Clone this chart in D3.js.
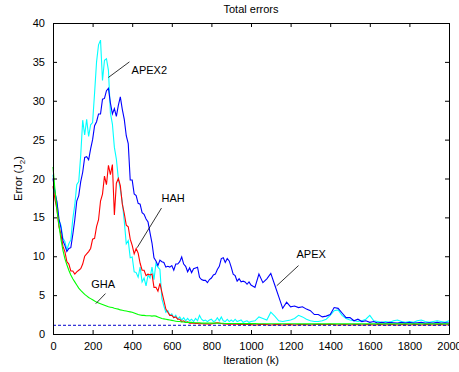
<!DOCTYPE html>
<html>
<head>
<meta charset="utf-8">
<script src="https://cdn.jsdelivr.net/npm/d3@7"></script>
<style>
  body { margin: 0; background: #fff; }
  svg text { font-family: "Liberation Sans", Arial, Helvetica, sans-serif; font-size: 11px; fill: #000; }
</style>
</head>
<body>
<svg id="chart" width="459" height="372"></svg>
<script>
// iteration index: every 10 up to 990, then every 20 up to 2000
const iterations = d3.range(0, 1000, 10).concat(d3.range(1000, 2001, 20));

const apex2 = [
  20.5, 18.2, 16.8, 14.6, 14.0, 12.3, 11.9, 10.8, 11.6, 12.1,
  14.8, 16.6, 19.2, 19.6, 23.0, 27.5, 25.6, 27.6, 25.4, 26.9,
  27.2, 31.0, 35.0, 37.2, 37.8, 32.6, 35.2, 35.4, 33.9, 28.4,
  27.0, 24.0, 22.5, 20.0, 18.6, 17.0, 14.5, 11.6, 12.0, 9.8,
  9.9, 8.0, 7.9, 7.3, 8.6, 6.7, 7.2, 6.2, 7.6, 7.2,
  8.6, 7.0, 9.1, 8.6, 8.3, 4.5, 3.6, 2.8, 3.0, 2.4,
  2.6, 2.1, 2.4, 1.9, 2.2, 1.8, 2.1, 1.7, 2.0, 1.7,
  1.9, 1.6, 2.0, 1.7, 2.4, 1.9, 1.7, 1.8, 1.6, 1.8,
  1.9, 1.6, 1.7, 2.1, 1.7, 2.2, 1.7, 1.6, 1.9, 1.6,
  1.8, 1.6, 1.9, 1.6, 1.7, 1.8, 1.5, 1.6, 1.7, 1.5,
  // step 20 from 1000
  1.6, 1.7, 2.2, 2.0, 1.8, 2.8, 2.3, 1.7, 1.6, 1.7,
  1.8, 2.0, 2.4, 2.2, 1.9, 1.7, 1.6, 1.6, 1.7, 1.9,
  2.4, 3.0, 3.1, 2.4, 2.0, 1.8, 1.7, 1.6, 1.7, 1.9,
  2.4, 1.7, 1.6, 1.5, 1.6, 1.5, 1.7, 1.8, 1.6, 1.5,
  1.6, 1.5, 1.7, 1.8, 1.6, 1.5, 1.6, 1.7, 1.6, 1.5, 1.7
];

const apex = [
  20.0, 18.2, 17.0, 14.8, 13.7, 12.0, 11.4, 10.6, 11.0, 11.1,
  12.8, 14.7, 17.1, 17.8, 19.6, 20.8, 22.7, 22.8, 22.4, 23.8,
  25.0, 26.8, 27.3, 28.3, 28.3, 30.2, 30.3, 31.3, 31.6, 29.7,
  28.3, 29.0, 28.0, 29.4, 30.5, 28.9, 27.6, 25.5, 24.5, 19.8,
  19.8, 18.0, 17.8, 16.8, 16.7, 15.6, 15.4, 14.8, 14.4, 13.0,
  11.7, 9.8, 9.4, 8.8, 9.5, 9.3, 9.2, 8.6, 8.7, 8.6,
  8.8, 8.2, 9.0, 9.0, 9.3, 9.9, 9.0, 8.7, 8.0, 8.5,
  7.9, 8.4, 8.5, 8.6, 7.3, 7.0, 6.9, 6.9, 6.6, 7.0,
  7.2, 7.6, 7.7, 8.3, 8.7, 9.7, 9.8, 9.2, 9.7, 9.4,
  8.6, 7.7, 7.5, 6.8, 7.1, 6.7, 6.8, 6.7, 6.4, 6.7,
  // step 20 from 1000
  6.3, 6.0, 7.7, 6.6, 7.1, 7.8, 6.3, 4.8, 3.3, 4.1,
  3.5, 3.6, 3.4, 3.5, 3.2, 3.0, 2.5, 2.5, 2.2, 2.3,
  2.5, 3.4, 3.3, 2.7, 2.1, 2.1, 1.7, 1.9, 1.6, 1.7,
  1.5, 1.6, 1.4, 1.5, 1.4, 1.5, 1.45, 1.4, 1.5, 1.4,
  1.5, 1.4, 1.45, 1.5, 1.4, 1.45, 1.4, 1.5, 1.4, 1.45, 1.4
];

const hah = [
  19.0, 17.3, 16.0, 13.8, 12.8, 11.3, 10.6, 9.3, 9.0, 8.1,
  8.1, 7.7, 8.0, 8.2, 8.4, 9.0, 10.0, 10.3, 10.6, 11.0,
  12.2, 12.3, 13.8, 14.7, 17.1, 18.0, 20.3, 19.2, 21.7, 20.5,
  21.8, 15.3, 19.4, 20.0, 19.1, 16.7, 15.5, 14.0, 13.8, 12.2,
  11.4, 10.3, 11.0, 10.4, 9.1, 8.2, 8.2, 7.5, 7.7, 7.6,
  7.7, 6.0, 6.0, 5.5, 6.5, 5.4, 4.3, 3.2, 2.8, 2.4,
  2.4, 2.1, 2.2, 1.9, 1.9, 1.6, 1.7, 1.5, 1.55, 1.4,
  1.4, 1.4, 1.35, 1.35, 1.3, 1.35, 1.3, 1.3, 1.3, 1.25,
  1.3, 1.35, 1.4, 1.45, 1.4, 1.35, 1.3, 1.3, 1.25, 1.3,
  1.25, 1.25, 1.3, 1.25, 1.2, 1.25, 1.2, 1.2, 1.25, 1.2,
  // step 20 from 1000
  1.2, 1.15, 1.2, 1.25, 1.2, 1.15, 1.2, 1.2, 1.15, 1.2,
  1.2, 1.15, 1.2, 1.2, 1.2, 1.15, 1.2, 1.25, 1.2, 1.2,
  1.25, 1.2, 1.15, 1.2, 1.2, 1.15, 1.2, 1.2, 1.15, 1.2,
  1.2, 1.15, 1.2, 1.2, 1.15, 1.2, 1.2, 1.15, 1.2, 1.2,
  1.15, 1.2, 1.2, 1.15, 1.2, 1.2, 1.15, 1.2, 1.2, 1.15, 1.2
];

const gha = [
  21.5, 18.5, 16.0, 14.0, 12.2, 10.8, 9.7, 8.9, 8.2, 7.6,
  7.1, 6.7, 6.3, 5.9, 5.6, 5.35, 5.1, 4.9, 4.7, 4.55,
  4.4, 4.25, 4.1, 4.0, 3.9, 3.8, 3.7, 3.6, 3.5, 3.45,
  3.4, 3.3, 3.25, 3.2, 3.1, 3.05, 3.0, 2.95, 2.9, 2.85,
  2.8, 2.7, 2.6, 2.5, 2.45, 2.4, 2.4, 2.35, 2.35, 2.35,
  2.3, 2.35, 2.3, 2.2, 2.1, 2.0, 1.95, 1.9, 1.85, 1.8,
  1.75, 1.7, 1.65, 1.6, 1.6, 1.55, 1.55, 1.5, 1.5, 1.5,
  1.5, 1.45, 1.45, 1.45, 1.45, 1.4, 1.4, 1.4, 1.4, 1.4,
  1.4, 1.4, 1.4, 1.38, 1.38, 1.38, 1.38, 1.36, 1.36, 1.36,
  1.35, 1.35, 1.35, 1.35, 1.34, 1.34, 1.34, 1.33, 1.33, 1.33,
  // step 20 from 1000
  1.33, 1.33, 1.32, 1.32, 1.32, 1.32, 1.32, 1.31, 1.31, 1.31,
  1.31, 1.31, 1.3, 1.3, 1.3, 1.3, 1.3, 1.3, 1.3, 1.3,
  1.3, 1.3, 1.3, 1.3, 1.3, 1.3, 1.3, 1.3, 1.3, 1.3,
  1.3, 1.3, 1.3, 1.3, 1.3, 1.3, 1.3, 1.3, 1.3, 1.3,
  1.3, 1.3, 1.3, 1.3, 1.3, 1.3, 1.3, 1.3, 1.3, 1.3, 1.3
];

const floorLevel = 1.12;   // dashed reference line

const xTicks = d3.range(0, 2001, 200);
const yTicks = d3.range(0, 41, 5);

// labels: [text, text x (k), text y, pointer from (k, v), pointer to (k, v)]
const labels = [
  ["APEX2", 397, 34.0, 386, 35.0, 280, 33.0],
  ["HAH", 548, 17.5, 548, 16.2, 425, 11.1],
  ["GHA", 193, 6.4, 265, 5.2, 216, 3.9],
  ["APEX", 1230, 10.3, 1240, 8.8, 1130, 6.2]
];

const margin = {top: 23, right: 10, bottom: 38, left: 53};
const width = 396, height = 311;

const svg = d3.select("#chart");
const g = svg.append("g").attr("transform", `translate(${margin.left},${margin.top})`);

const x = d3.scaleLinear().domain([0, 2000]).range([0, width]);
const y = d3.scaleLinear().domain([0, 40]).range([height, 0]);

g.append("rect").attr("width", width).attr("height", height).attr("fill", "#fff");

const line = d3.line().x((d, i) => x(iterations[i])).y(d => y(d));

const series = [
  {vals: apex2, color: "#00ffff"},
  {vals: apex, color: "#0000ff"},
  {vals: hah, color: "#ff0000"},
  {vals: gha, color: "#00ff00"}
];

series.forEach(s => {
  g.append("path")
    .datum(s.vals)
    .attr("fill", "none")
    .attr("stroke", s.color)
    .attr("stroke-width", 1.1)
    .attr("d", line);
});

g.append("line")
  .attr("x1", x(0)).attr("x2", x(2000))
  .attr("y1", y(floorLevel)).attr("y2", y(floorLevel))
  .attr("stroke", "#0000cc")
  .attr("stroke-width", 1)
  .attr("stroke-dasharray", "3,2");

// annotations
labels.forEach(l => {
  g.append("line")
    .attr("x1", x(l[3])).attr("y1", y(l[4]))
    .attr("x2", x(l[5])).attr("y2", y(l[6]))
    .attr("stroke", "#000").attr("stroke-width", 0.8);
  g.append("text")
    .attr("x", x(l[1])).attr("y", y(l[2]))
    .attr("dy", "0.35em")
    .text(l[0]);
});

// axes, MATLAB style box with inward ticks
const axB = g.append("g").attr("transform", `translate(0,${height})`)
  .call(d3.axisBottom(x).tickValues(xTicks).tickFormat(d3.format("d"))
    .tickSizeInner(-4).tickSizeOuter(0).tickPadding(8));
const axT = g.append("g")
  .call(d3.axisTop(x).tickValues(xTicks).tickSizeInner(-4).tickSizeOuter(0).tickFormat(""));
const axL = g.append("g")
  .call(d3.axisLeft(y).tickValues(yTicks).tickSizeInner(-4).tickSizeOuter(0).tickPadding(8));
const axR = g.append("g").attr("transform", `translate(${width},0)`)
  .call(d3.axisRight(y).tickValues(yTicks).tickSizeInner(-4).tickSizeOuter(0).tickFormat(""));

[axB, axT, axL, axR].forEach(a => {
  a.select(".domain").attr("stroke", "#000");
  a.selectAll(".tick line").attr("stroke", "#000");
  a.selectAll("text").attr("font-family", null).attr("font-size", null).attr("fill", "#000");
});

// title and axis labels
svg.append("text")
  .attr("x", margin.left + width / 2).attr("y", 13)
  .attr("text-anchor", "middle")
  .text("Total errors");

svg.append("text")
  .attr("x", margin.left + width / 2).attr("y", 364)
  .attr("text-anchor", "middle")
  .text("Iteration (k)");

const yl = svg.append("text")
  .attr("transform", `translate(22,${margin.top + height / 2}) rotate(-90)`)
  .attr("text-anchor", "middle");
yl.append("tspan").text("Error (J");
yl.append("tspan").attr("font-size", "8px").attr("dy", "3").text("2");
yl.append("tspan").attr("dy", "-3").text(")");
</script>
</body>
</html>
